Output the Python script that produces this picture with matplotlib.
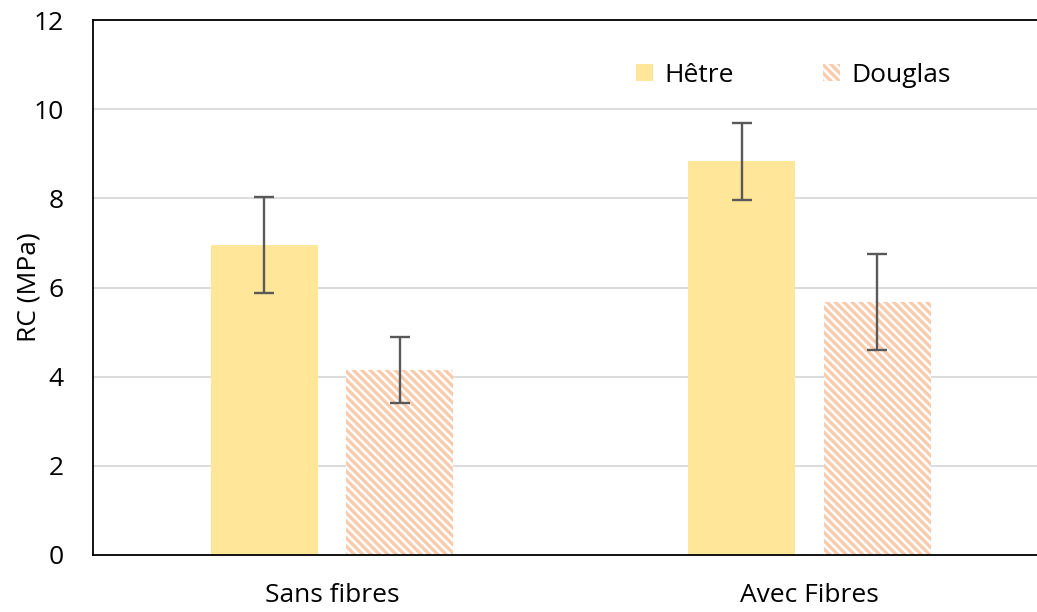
import matplotlib.pyplot as plt
import numpy as np

categories = ['Sans fibres', 'Avec Fibres']
series = ['Hêtre', 'Douglas']
hetre = [6.95, 8.83]
hetre_err = [1.08, 0.86]
douglas = [4.15, 5.68]
douglas_err = [0.74, 1.08]
yticks = [0, 2, 4, 6, 8, 10, 12]

plt.rcParams['font.family'] = ['Open Sans', 'DejaVu Sans']
plt.rcParams['hatch.linewidth'] = 2.4

fig = plt.figure(figsize=(10.37, 6.12), dpi=100)
ax = fig.add_axes([93 / 1037, 57 / 612, 944 / 1037, 535 / 612])

x = np.arange(len(categories))
w = 0.224
off = 0.142
err_kw = dict(ecolor='#595959', elinewidth=1.7, capsize=7, capthick=1.7)

ax.bar(x - off, hetre, w, color='#FFE699', label=series[0], zorder=2)
ax.errorbar(x - off, hetre, yerr=hetre_err, fmt='none', zorder=3, **err_kw)
ax.bar(x + off, douglas, w, color='white', edgecolor='#F8CBAD', linewidth=0,
       hatch='\\\\\\\\', label=series[1], zorder=2)
ax.errorbar(x + off, douglas, yerr=douglas_err, fmt='none', zorder=3, **err_kw)

ax.set_xlim(-0.5, 1.476)
ax.set_ylim(0, 12)
ax.set_yticks(yticks)
ax.set_xticks(x)
ax.set_xticklabels(categories)
ax.tick_params(length=0, labelsize=19)
ax.tick_params(axis='y', pad=21)
ax.tick_params(axis='x', pad=20)
ax.yaxis.grid(True, color='#D9D9D9', linewidth=1.3, zorder=0)
ax.set_axisbelow(True)
ax.set_ylabel('RC (MPa)', fontsize=19, labelpad=-6)

for s in ['left', 'bottom', 'top']:
    ax.spines[s].set_linewidth(1.3)
    ax.spines[s].set_color('black')
ax.spines['right'].set_visible(False)

fig.legend(loc='center', bbox_to_anchor=(0.765, 0.877), ncol=2, frameon=False,
           fontsize=19, handlelength=0.65, handleheight=0.65,
           handletextpad=0.4, columnspacing=3.4)

fig.savefig('out.png', dpi=100)
